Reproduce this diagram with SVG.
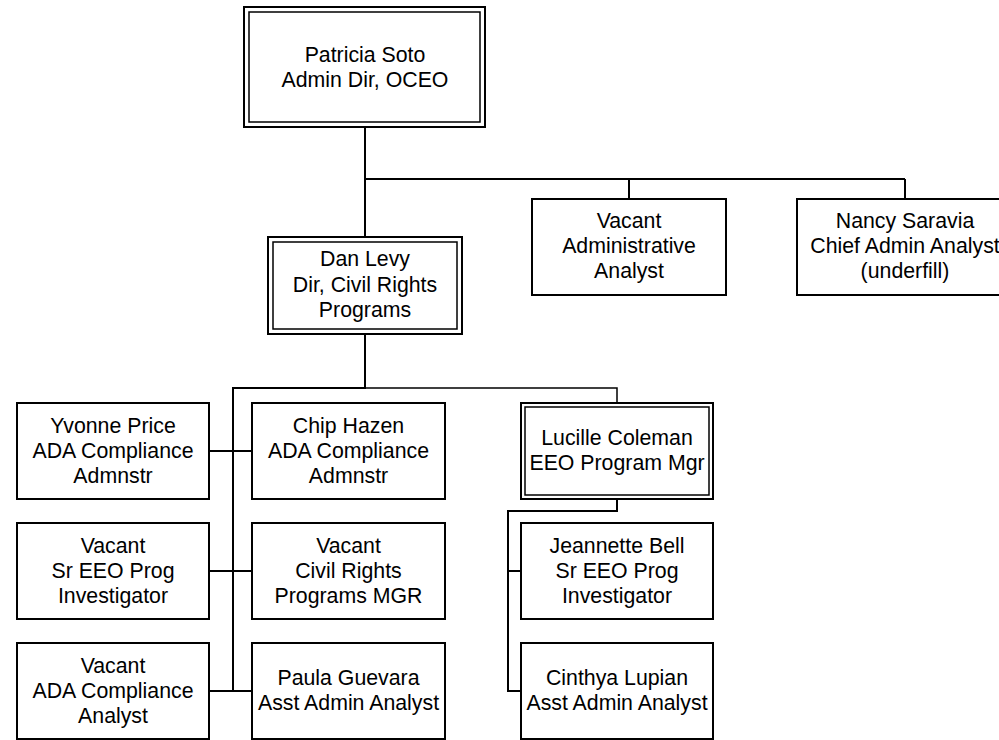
<svg xmlns="http://www.w3.org/2000/svg" width="999" height="740" viewBox="0 0 999 740">
<style>
.box{fill:#fff;stroke:#000;stroke-width:2}
.inner{fill:none;stroke:#000;stroke-width:1.5}
.t{font-family:"Liberation Sans",Arial,sans-serif;font-size:21.3px;fill:#000;text-anchor:middle}
.c{fill:none;stroke:#000;stroke-width:2}
</style>
<rect width="999" height="740" fill="#fff"/>
<g id="connectors">
<path class="c" d="M365,127 V237 M365,179 H905 M629,179 V199 M905,179 V199"/>
<path class="c" d="M365,334 V388 H233 V691 M209,451 H252 M209,571 H252 M209,691 H252"/>
<path class="c" style="stroke-width:1.5" d="M365,388 H617 V403"/>
<path class="c" d="M617,499 V511 H508 V691 H521 M508,571 H521"/>
</g>
<g id="patricia">
<rect class="box" x="244" y="7" width="241" height="120"/>
<rect class="inner" x="249" y="12" width="231" height="110"/>
<text class="t" x="365" y="62">Patricia Soto</text>
<text class="t" x="365" y="87">Admin Dir, OCEO</text>
</g>
<g id="vacant-admin-analyst">
<rect class="box" x="532" y="199" width="194" height="96"/>
<text class="t" x="629" y="228">Vacant</text>
<text class="t" x="629" y="253">Administrative</text>
<text class="t" x="629" y="278">Analyst</text>
</g>
<g id="nancy">
<rect class="box" x="797" y="199" width="216" height="96"/>
<text class="t" x="905" y="228">Nancy Saravia</text>
<text class="t" x="905" y="253">Chief Admin Analyst</text>
<text class="t" x="905" y="278">(underfill)</text>
</g>
<g id="dan">
<rect class="box" x="268" y="237" width="194" height="97"/>
<rect class="inner" x="273" y="242" width="184" height="87"/>
<text class="t" x="365" y="266">Dan Levy</text>
<text class="t" x="365" y="292">Dir, Civil Rights</text>
<text class="t" x="365" y="317">Programs</text>
</g>
<g id="yvonne">
<rect class="box" x="17" y="403" width="192" height="96"/>
<text class="t" x="113" y="433">Yvonne Price</text>
<text class="t" x="113" y="458">ADA Compliance</text>
<text class="t" x="113" y="483">Admnstr</text>
</g>
<g id="chip">
<rect class="box" x="252" y="403" width="193" height="96"/>
<text class="t" x="348.5" y="433">Chip Hazen</text>
<text class="t" x="348.5" y="458">ADA Compliance</text>
<text class="t" x="348.5" y="483">Admnstr</text>
</g>
<g id="vacant-sr-eeo">
<rect class="box" x="17" y="523" width="192" height="96"/>
<text class="t" x="113" y="553">Vacant</text>
<text class="t" x="113" y="578">Sr EEO Prog</text>
<text class="t" x="113" y="603">Investigator</text>
</g>
<g id="vacant-civil-rights">
<rect class="box" x="252" y="523" width="193" height="96"/>
<text class="t" x="348.5" y="553">Vacant</text>
<text class="t" x="348.5" y="578">Civil Rights</text>
<text class="t" x="348.5" y="603">Programs MGR</text>
</g>
<g id="vacant-ada-analyst">
<rect class="box" x="17" y="643" width="192" height="96"/>
<text class="t" x="113" y="673">Vacant</text>
<text class="t" x="113" y="698">ADA Compliance</text>
<text class="t" x="113" y="723">Analyst</text>
</g>
<g id="paula">
<rect class="box" x="252" y="643" width="193" height="96"/>
<text class="t" x="348.5" y="685">Paula Guevara</text>
<text class="t" x="348.5" y="710">Asst Admin Analyst</text>
</g>
<g id="lucille">
<rect class="box" x="521" y="403" width="192" height="96"/>
<rect class="inner" x="525" y="407" width="184" height="88"/>
<text class="t" x="617" y="445">Lucille Coleman</text>
<text class="t" x="617" y="470">EEO Program Mgr</text>
</g>
<g id="jeannette">
<rect class="box" x="521" y="523" width="192" height="96"/>
<text class="t" x="617" y="553">Jeannette Bell</text>
<text class="t" x="617" y="578">Sr EEO Prog</text>
<text class="t" x="617" y="603">Investigator</text>
</g>
<g id="cinthya">
<rect class="box" x="521" y="643" width="192" height="96"/>
<text class="t" x="617" y="685">Cinthya Lupian</text>
<text class="t" x="617" y="710">Asst Admin Analyst</text>
</g>
</svg>
